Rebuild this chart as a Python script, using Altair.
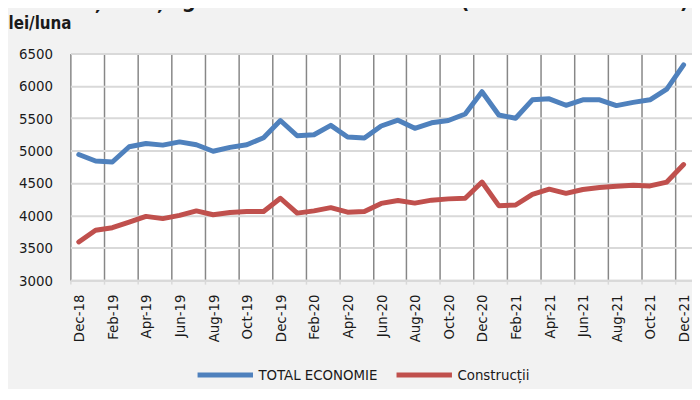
import altair as alt
import pandas as pd

months = ["Dec-18", "Jan-19", "Feb-19", "Mar-19", "Apr-19", "May-19", "Jun-19", "Jul-19",
          "Aug-19", "Sep-19", "Oct-19", "Nov-19", "Dec-19", "Jan-20", "Feb-20", "Mar-20",
          "Apr-20", "May-20", "Jun-20", "Jul-20", "Aug-20", "Sep-20", "Oct-20", "Nov-20",
          "Dec-20", "Jan-21", "Feb-21", "Mar-21", "Apr-21", "May-21", "Jun-21", "Jul-21",
          "Aug-21", "Sep-21", "Oct-21", "Nov-21", "Dec-21"]

total_economie = [4940, 4840, 4825, 5060, 5110, 5085, 5135, 5090, 4990, 5050, 5090, 5200,
                  5465, 5230, 5245, 5390, 5210, 5195, 5380, 5470, 5345, 5430, 5465, 5565,
                  5910, 5550, 5500, 5785, 5800, 5700, 5785, 5785, 5695, 5745, 5785, 5950,
                  6325]

constructii = [3590, 3770, 3810, 3895, 3985, 3950, 4000, 4070, 4010, 4045, 4060, 4060,
               4265, 4035, 4070, 4120, 4050, 4060, 4185, 4230, 4190, 4235, 4255, 4265,
               4515, 4150, 4160, 4325, 4405, 4340, 4400, 4430, 4450, 4465, 4455, 4515,
               4785]

series_names = ["TOTAL ECONOMIE", "Construcții"]
series_colors = ["#4f81bd", "#c0504d"]
y_ticks = [3000, 3500, 4000, 4500, 5000, 5500, 6000, 6500]
title_text = "Evoluția câștigului salarial mediu brut (dec2018 – dec2021)"
y_title = "lei/luna"

rows = []
for i, m in enumerate(months):
    rows.append({"idx": i, "month": m, "serie": series_names[0], "val": total_economie[i]})
    rows.append({"idx": i, "month": m, "serie": series_names[1], "val": constructii[i]})
df = pd.DataFrame(rows)

FONT = "'DejaVu Sans Condensed', 'Liberation Sans Narrow', 'Liberation Sans', sans-serif"
n = len(months)
boundaries = [k - 0.5 for k in range(0, n, 2)]
label_arr = "[" + ",".join("'" + m + "'" for m in months) + "]"
label_expr = label_arr + "[round(datum.value + 0.5)]"

lines = alt.Chart(df).mark_line(strokeWidth=5, strokeJoin="round", strokeCap="round").encode(
    x=alt.X("idx:Q",
            scale=alt.Scale(domain=[-0.5, n - 0.5], nice=False, zero=False),
            axis=alt.Axis(values=boundaries, labelExpr=label_expr, labelAngle=-90,
                          labelOffset=8.5, labelOverlap=False, labelFlush=False,
                          labelBound=False, grid=True, gridColor="#878787",
                          gridWidth=1.5, tickColor="#d9d9d9", tickSize=4,
                          tickWidth=1.5, domainColor="#d9d9d9", domainWidth=2,
                          labelPadding=10, labelFontSize=15, labelFont=FONT,
                          labelColor="#1a1a1a", title=None)),
    y=alt.Y("val:Q",
            scale=alt.Scale(domain=[3000, 6500], nice=False, zero=False),
            axis=alt.Axis(values=y_ticks, format="d", grid=True, gridColor="#d9d9d9",
                          gridWidth=2, ticks=False, domain=False, labelPadding=18,
                          labelFontSize=15, labelFont=FONT, labelColor="#1a1a1a",
                          title=y_title, titleAngle=0, titleAlign="left",
                          titleBaseline="alphabetic", titleX=-63, titleY=-25,
                          titleFont=FONT, titleFontSize=17, titleFontWeight="bold",
                          titleColor="#1a1a1a")),
    color=alt.Color("serie:N",
                    scale=alt.Scale(domain=series_names, range=series_colors),
                    sort=series_names,
                    legend=alt.Legend(title=None, orient="none", direction="horizontal",
                                      legendX=126, legendY=294, symbolType="stroke",
                                      symbolSize=3136, symbolStrokeWidth=5,
                                      labelFont=FONT, labelFontSize=15,
                                      labelColor="#1a1a1a", labelOffset=3,
                                      columnPadding=8, padding=0)),
)

title = alt.Chart(pd.DataFrame({"t": [title_text]})).mark_text(
    font=FONT, fontSize=22, fontWeight="bold", align="left", baseline="alphabetic",
    color="#1a1a1a"
).encode(text="t:N", x=alt.value(-38), y=alt.value(-46))

chart = alt.layer(lines, title).properties(
    width=628, height=229,
    autosize=alt.AutoSizeParams(type="none"),
    padding={"left": 63, "top": 44, "right": 0, "bottom": 108},
    background="#f2f2f2",
).configure_view(fill="white", strokeWidth=0)

chart.save("out.html", embed_options={"renderer": "svg", "actions": False})
